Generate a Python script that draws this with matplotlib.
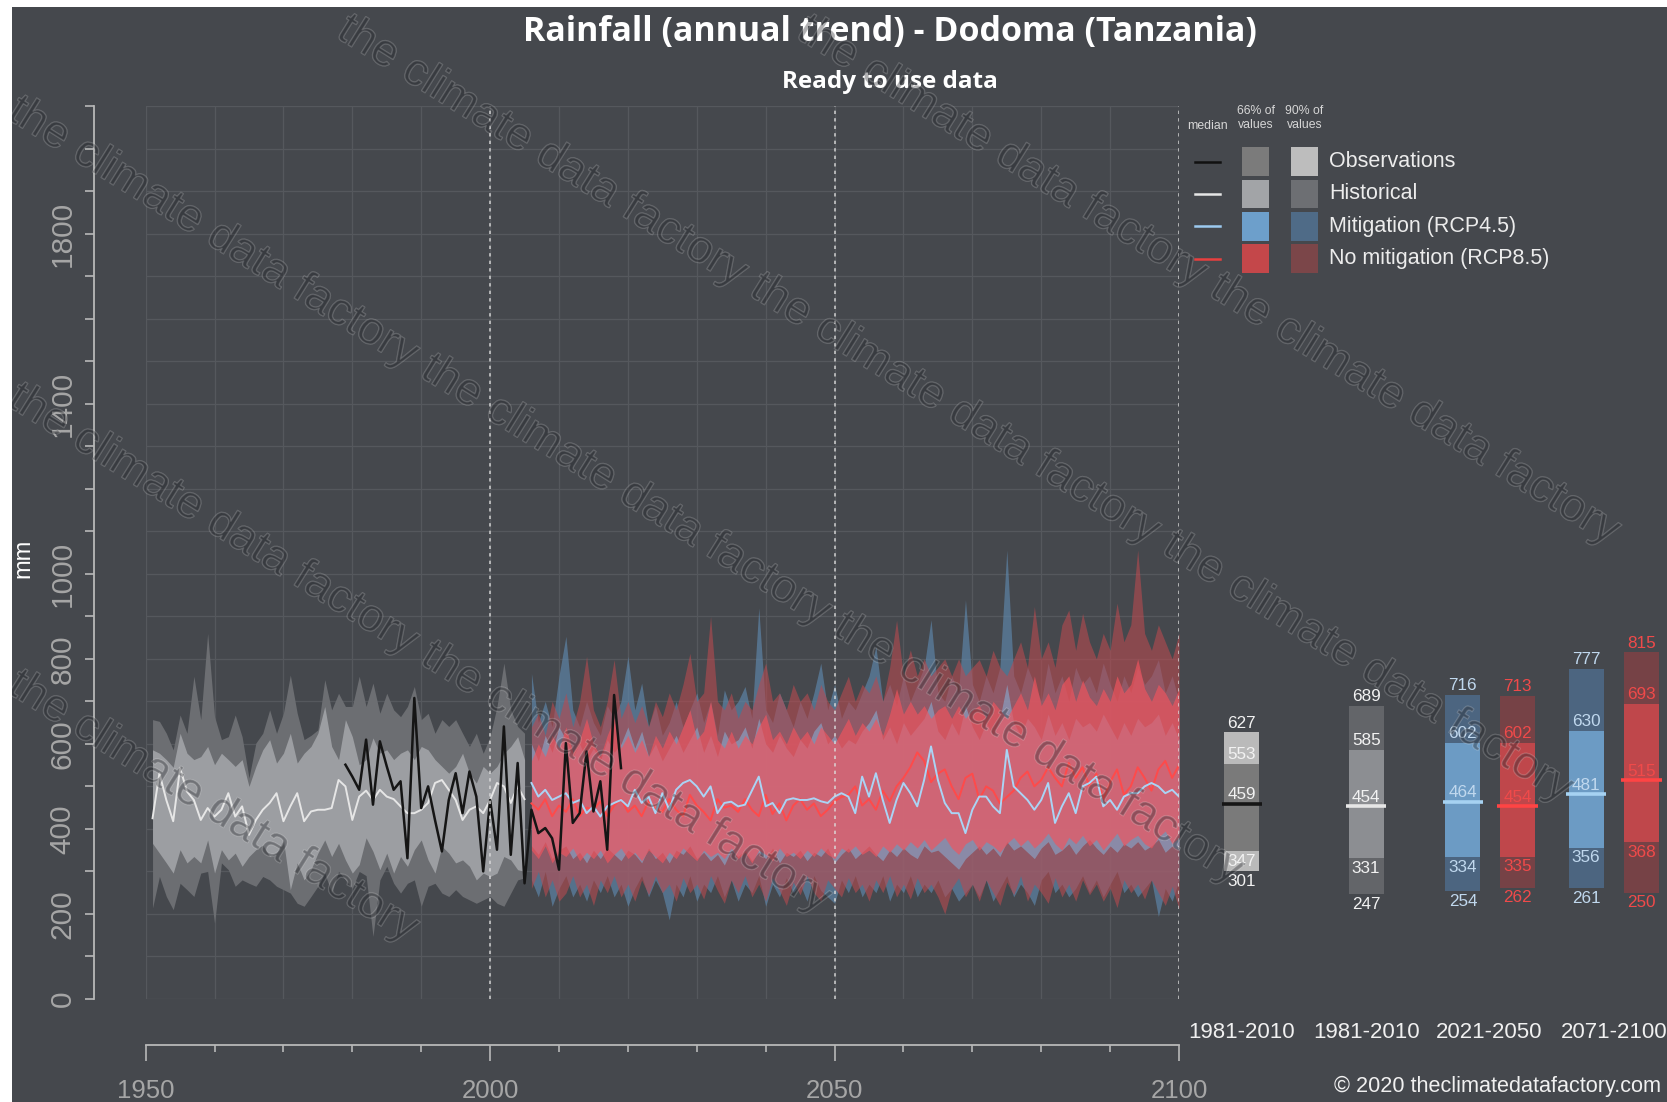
import math
import matplotlib
matplotlib.use("Agg")
import matplotlib.pyplot as plt
import matplotlib.patheffects as pe
from matplotlib import font_manager
from matplotlib.patches import Rectangle

# ------------------------------------------------------------------ data
hist_years = list(range(1951, 2006))
hist_p05 = [214, 288, 241, 210, 272, 257, 241, 296, 300, 178,
            320, 304, 265, 280, 272, 265, 288, 280, 265, 257,
            249, 225, 218, 241, 265, 296, 249, 300, 280, 260,
            300, 290, 147, 280, 312, 272, 249, 272, 280, 218,
            265, 272, 249, 241, 257, 241, 233, 225, 233, 241,
            225, 218, 249, 280, 285]
hist_p17 = [366, 343, 320, 296, 351, 320, 335, 320, 374, 296,
            351, 327, 343, 312, 335, 351, 362, 335, 343, 374,
            257, 320, 280, 304, 343, 374, 335, 366, 327, 296,
            316, 379, 347, 304, 343, 296, 335, 312, 351, 374,
            327, 296, 359, 343, 320, 327, 312, 280, 296, 288,
            296, 335, 327, 304, 300]
hist_med = [425, 531, 468, 418, 543, 488, 468, 421, 449, 429,
            445, 484, 429, 453, 386, 421, 445, 461, 484, 418,
            453, 484, 418, 441, 445, 445, 449, 515, 500, 421,
            476, 490, 468, 492, 476, 470, 453, 437, 437, 445,
            461, 508, 515, 492, 468, 421, 445, 453, 437, 468,
            508, 500, 461, 500, 470]
hist_p83 = [586, 578, 563, 545, 625, 578, 563, 570, 594, 551,
            578, 563, 547, 563, 500, 547, 586, 610, 555, 578,
            625, 555, 578, 594, 625, 688, 594, 563, 657, 617,
            551, 563, 614, 578, 586, 563, 578, 586, 563, 594,
            586, 563, 547, 531, 547, 578, 531, 508, 547, 531,
            547, 578, 594, 617, 563]
hist_p95 = [657, 653, 625, 586, 668, 625, 759, 657, 860, 664,
            610, 617, 668, 617, 520, 602, 625, 680, 625, 672,
            762, 672, 610, 620, 633, 751, 680, 719, 688, 688,
            759, 688, 743, 672, 719, 680, 664, 688, 735, 657,
            672, 625, 657, 641, 657, 625, 594, 625, 578, 617,
            688, 790, 680, 641, 625]

obs_years = list(range(1979, 2020))
obs_values = [551, 523, 492, 610, 457, 606, 547, 492, 512, 331,
              708, 449, 500, 421, 347, 468, 531, 437, 535, 476,
              300, 468, 351, 641, 339, 555, 272, 445, 390, 402,
              378, 304, 602, 414, 437, 582, 441, 512, 351, 715,
              543]

rcp_years = list(range(2006, 2101))
rcp45_p05 = [280, 240, 300, 218, 260, 290, 240, 270, 230, 280,
             250, 290, 240, 270, 218, 260, 290, 240, 280, 250,
             186, 270, 240, 290, 230, 270, 250, 290, 240, 280,
             230, 270, 250, 290, 218, 270, 240, 285, 250, 270,
             230, 290, 255, 240, 225, 280, 250, 290, 240, 270,
             250, 290, 230, 270, 250, 290, 240, 270, 250, 280,
             240, 260, 230, 250, 270, 240, 280, 230, 260, 290,
             240, 270, 250, 220, 280, 300, 250, 270, 240, 260,
             290, 250, 280, 240, 270, 300, 250, 270, 240, 260,
             280, 194, 260, 230, 280]
rcp45_p17 = [360, 340, 370, 330, 350, 360, 330, 345, 320, 350,
             330, 355, 340, 325, 350, 340, 320, 355, 330, 345,
             320, 350, 340, 360, 330, 345, 325, 340, 315, 350,
             335, 350, 325, 345, 330, 355, 320, 345, 335, 350,
             325, 345, 335, 355, 320, 340, 355, 330, 345, 360,
             340, 325, 350, 335, 355, 340, 330, 360, 345, 350,
             335, 320, 305, 330, 345, 360, 340, 355, 335, 370,
             350, 360, 345, 330, 355, 370, 340, 350, 365, 340,
             360, 375, 355, 340, 360, 345, 365, 355, 370, 350,
             360, 375, 345, 360, 350]
rcp45_med = [508, 476, 492, 468, 476, 484, 461, 468, 437, 453,
             429, 453, 461, 468, 453, 492, 461, 476, 437, 484,
             445, 492, 508, 515, 500, 476, 500, 437, 461, 464,
             453, 457, 490, 523, 453, 461, 437, 468, 472, 468,
             468, 472, 465, 461, 476, 484, 476, 437, 523, 476,
             531, 468, 414, 468, 508, 484, 453, 515, 594, 515,
             461, 437, 437, 390, 445, 476, 476, 453, 437, 586,
             500, 484, 468, 445, 468, 508, 414, 453, 484, 437,
             500, 508, 523, 453, 468, 445, 476, 484, 484, 500,
             508, 500, 484, 492, 476]
rcp45_p83 = [600, 560, 620, 580, 640, 610, 570, 600, 560, 590,
             560, 610, 580, 600, 640, 590, 630, 570, 600, 560,
             590, 620, 580, 610, 640, 580, 620, 570, 630, 600,
             610, 640, 590, 660, 600, 580, 620, 590, 570, 610,
             590, 630, 650, 600, 620, 590, 610, 600, 630, 650,
             680, 610, 640, 600, 650, 620, 640, 660, 700, 630,
             610, 650, 620, 690, 640, 610, 650, 620, 660, 740,
             650, 620, 660, 640, 610, 670, 620, 650, 610, 660,
             640, 650, 630, 670, 640, 610, 650, 620, 660, 640,
             650, 670, 620, 650, 610]
rcp45_p95 = [766, 650, 700, 640, 760, 853, 680, 640, 700, 650,
             620, 690, 660, 700, 806, 680, 743, 640, 690, 620,
             650, 700, 640, 680, 720, 650, 700, 620, 727, 680,
             700, 735, 660, 920, 680, 650, 720, 680, 640, 700,
             660, 720, 790, 680, 740, 660, 700, 680, 720, 760,
             829, 700, 740, 690, 760, 700, 740, 780, 892, 720,
             700, 760, 720, 939, 740, 700, 760, 720, 780, 1056,
             760, 720, 780, 740, 700, 790, 720, 760, 700, 780,
             740, 760, 720, 790, 740, 700, 760, 720, 780, 740,
             760, 798, 720, 760, 700]

rcp85_p05 = [260, 300, 240, 280, 230, 249, 290, 240, 270, 220,
             280, 250, 290, 240, 270, 230, 280, 245, 290, 250,
             270, 230, 285, 250, 270, 235, 290, 255, 225, 280,
             250, 290, 240, 270, 230, 285, 255, 220, 275, 245,
             290, 250, 230, 280, 260, 240, 285, 250, 270, 230,
             280, 250, 290, 240, 270, 235, 285, 250, 270, 240,
             200, 260, 285, 240, 270, 230, 280, 250, 220, 275,
             245, 290, 230, 270, 250, 225, 285, 240, 270, 230,
             280, 245, 270, 230, 260, 215, 280, 250, 270, 235,
             280, 250, 220, 265, 212]
rcp85_p17 = [350, 330, 360, 320, 345, 335, 355, 325, 345, 330,
             350, 320, 340, 355, 330, 345, 325, 350, 335, 320,
             345, 330, 355, 340, 325, 350, 335, 345, 330, 355,
             330, 345, 320, 350, 340, 325, 355, 335, 345, 330,
             350, 335, 355, 340, 330, 355, 345, 360, 340, 350,
             335, 360, 345, 365, 350, 370, 355, 375, 350, 365,
             380, 355, 340, 365, 375, 350, 370, 360, 345, 365,
             380, 360, 375, 355, 370, 390, 365, 350, 380, 365,
             385, 360, 375, 350, 370, 390, 360, 375, 385, 365,
             355, 380, 395, 365, 380]
rcp85_med = [460, 445, 470, 430, 455, 440, 470, 430, 450, 445,
             465, 430, 455, 470, 440, 455, 430, 465, 450, 440,
             470, 445, 430, 480, 455, 440, 420, 470, 450, 455,
             440, 470, 445, 430, 480, 435, 460, 420, 455, 470,
             445, 460, 430, 445, 465, 475, 480, 500, 455, 470,
             445, 490, 465, 500, 520, 545, 580, 560, 510, 530,
             540, 500, 470, 520, 530, 470, 500, 490, 460, 475,
             490, 520, 535, 500, 515, 545, 520, 500, 555, 520,
             545, 500, 530, 470, 510, 540, 480, 500, 545, 520,
             490, 540, 560, 520, 550]
rcp85_p83 = [560, 600, 570, 620, 590, 640, 580, 610, 660, 600,
             570, 620, 660, 590, 620, 580, 610, 570, 620, 590,
             630, 600, 640, 680, 610, 630, 700, 610, 590, 630,
             590, 620, 600, 640, 670, 610, 630, 600, 640, 610,
             630, 600, 640, 620, 600, 630, 660, 620, 650, 630,
             660, 620, 670, 730, 670, 700, 670, 690, 660, 680,
             690, 660, 690, 660, 680, 690, 660, 700, 680, 660,
             690, 720, 680, 760, 690, 720, 680, 740, 760, 700,
             750, 710, 690, 730, 700, 760, 720, 740, 800, 730,
             700, 740, 720, 690, 730]
rcp85_p95 = [640, 672, 620, 700, 660, 720, 640, 700, 806, 680,
             640, 700, 798, 660, 700, 650, 690, 640, 700, 664,
             720, 680, 740, 813, 700, 720, 900, 700, 680, 720,
             660, 700, 680, 740, 790, 700, 720, 680, 740, 700,
             720, 680, 740, 700, 680, 720, 759, 700, 740, 720,
             760, 700, 780, 891, 760, 821, 760, 800, 760, 780,
             800, 760, 800, 760, 780, 798, 760, 820, 780, 760,
             800, 840, 780, 923, 800, 840, 780, 880, 915, 820,
             907, 840, 800, 860, 820, 931, 840, 880, 1056, 860,
             820, 880, 840, 800, 860]

# 30-year summaries shown as bars at the right
bar_p05 = [301, 247, 254, 262, 261, 250]
bar_p17 = [347, 331, 334, 335, 356, 368]
bar_med = [459, 454, 464, 454, 481, 515]
bar_p83 = [553, 585, 602, 602, 630, 693]
bar_p95 = [627, 689, 716, 713, 777, 815]
period_labels = ["1981-2010", "1981-2010", "2021-2050", "2071-2100"]
series_labels = ["Observations", "Historical", "Mitigation (RCP4.5)",
                 "No mitigation (RCP8.5)"]
ytick_labels = [0, 200, 400, 600, 800, 1000, 1400, 1800]
xtick_labels = [1950, 2000, 2050, 2100]

# ------------------------------------------------------------------ fonts
installed = {f.name for f in font_manager.fontManager.ttflist}


def fam(*names):
    return [n for n in names if n in installed] + ["DejaVu Sans"]


SANS = fam("Liberation Sans", "Arial")
HAS_NARROW = "Liberation Sans Narrow" in installed
NARROW = fam("Liberation Sans Narrow", "Liberation Sans")
NSC = 1.0 if HAS_NARROW else 0.82
TITLE = fam("Open Sans", "Lato")
plt.rcParams["font.family"] = SANS

# ------------------------------------------------------------------ style
BG = "#45484d"
GRID = "#55585d"
AXIS = "#b8b8b8"
TICKLBL = "#a6a6a6"

GW, GH = 1568.0, 1037.0          # layout grid
PT = 1667.0 / GW * 0.72          # points per grid unit


def fx(x):
    return x / GW


def fy(y):
    return 1 - y / GH


fig = plt.figure(figsize=(16.67, 11.02), dpi=100, facecolor=BG)

# ------------------------------------------------------------------ main panel
ax = fig.add_axes([fx(137), fy(940), fx(1109) - fx(137), fy(100) - fy(940)])
ax.set_facecolor(BG)
ax.set_xlim(1950, 2100)
ax.set_ylim(0, 2100)
for s in ("top", "right"):
    ax.spines[s].set_visible(False)
ax.spines["left"].set_position(("outward", 49 * PT))
ax.spines["bottom"].set_position(("outward", 43 * PT))
for s in ("left", "bottom"):
    ax.spines[s].set_color(AXIS)
    ax.spines[s].set_linewidth(1.3)

yt = list(range(0, 2101, 100))
ax.set_yticks(yt)
ax.set_yticklabels([str(v) if v in ytick_labels else "" for v in yt])
ax.set_xticks(xtick_labels)
ax.set_xticklabels([str(v) for v in xtick_labels])
ax.set_xticks(list(range(1950, 2101, 10)), minor=True)
ax.tick_params(axis="y", length=8 * PT, width=1.2, color=AXIS,
               labelcolor=TICKLBL, pad=6, labelrotation=90)
ax.tick_params(axis="x", which="major", length=15 * PT, width=1.2, color=AXIS,
               labelcolor=TICKLBL, pad=13)
ax.tick_params(axis="x", which="minor", length=7 * PT, width=1.2, color=AXIS)
for lbl in ax.get_yticklabels():
    lbl.set_fontsize(21.5)
    lbl.set_va("center")
for lbl in ax.get_xticklabels():
    lbl.set_fontsize(18.5)

ax.set_axisbelow(True)
ax.grid(True, which="both", axis="x", color=GRID, lw=0.9)
ax.grid(True, which="major", axis="y", color=GRID, lw=0.9)

ax.set_ylabel("mm", color="white", fontsize=17, va="center")
ax.yaxis.set_label_coords((22 - 137) / (1109 - 137), (940 - 525) / 840)

# historical ensemble
ax.fill_between(hist_years, hist_p05, hist_p95, color="#6c6e72", lw=0, zorder=2)
ax.fill_between(hist_years, hist_p17, hist_p83, color="#9c9ea2", lw=0, zorder=3)
ax.plot(hist_years, hist_med, color="#e6e6e6", lw=1.4, zorder=4)

# scenario ensembles
ax.fill_between(rcp_years, rcp45_p05, rcp45_p95, color="#5f88ad", alpha=0.65,
                lw=0, zorder=5)
ax.fill_between(rcp_years, rcp85_p05, rcp85_p95, color="#b84a50", alpha=0.6,
                lw=0, zorder=6)
ax.fill_between(rcp_years, rcp45_p17, rcp45_p83, color="#86b4dc", alpha=0.55,
                lw=0, zorder=7)
ax.fill_between(rcp_years, rcp85_p17, rcp85_p83, color="#f0545e", alpha=0.68,
                lw=0, zorder=8)
ax.plot(rcp_years, rcp85_med, color="#ff4a4a", lw=1.4, zorder=9)
ax.plot(rcp_years, rcp45_med, color="#aad4f5", lw=1.4, zorder=10)

# observations
ax.plot(obs_years, obs_values, color="#151515", lw=1.8, zorder=11)

for yr in (2000, 2050, 2100):
    ax.axvline(yr, color="#dcdcdc", lw=1.2, ls=(0, (2, 2.5)), alpha=0.85,
               zorder=12)

# ------------------------------------------------------------------ bars
axr = fig.add_axes([fx(1110), fy(940), 1 - fx(1110), fy(100) - fy(940)])
axr.set_xlim(1110, GW)
axr.set_ylim(0, 2100)
axr.axis("off")

bar_x = [1168, 1285, 1376, 1427.5, 1492, 1544]
bar_w = 33
c90 = ["#bababa", "#636569", "#4c6580", "#764246", "#4c6580", "#764246"]
c66 = ["#7a7a7a", "#8c8e92", "#6c9bc4", "#bf474b", "#6c9bc4", "#bf474b"]
cmed = ["#151515", "#e6e6e6", "#a6d2f2", "#ff4444", "#a6d2f2", "#ff4444"]
ctxt = ["#f2f2f2", "#f2f2f2", "#c0d8ee", "#f04a4a", "#c0d8ee", "#f04a4a"]

for i, cx in enumerate(bar_x):
    axr.bar(cx, bar_p95[i] - bar_p05[i], bottom=bar_p05[i], width=bar_w,
            color=c90[i], lw=0)
    axr.bar(cx, bar_p83[i] - bar_p17[i], bottom=bar_p17[i], width=bar_w,
            color=c66[i], lw=0)
    axr.plot([cx - 19, cx + 19], [bar_med[i], bar_med[i]], color=cmed[i],
             lw=2.6, solid_capstyle="butt")
    kw = dict(ha="center", va="center", color=ctxt[i], family=NARROW,
              fontsize=15 * NSC)
    axr.text(cx, bar_p95[i] + 22, str(bar_p95[i]), **kw)
    axr.text(cx, bar_p83[i] + 22, str(bar_p83[i]), **kw)
    axr.text(cx, bar_med[i] + 21, str(bar_med[i]), **kw)
    axr.text(cx, bar_p17[i] - 24, str(bar_p17[i]), **kw)
    axr.text(cx, bar_p05[i] - 24, str(bar_p05[i]), **kw)

# ------------------------------------------------------------------ overlay
ovl = fig.add_axes([0, 0, 1, 1], zorder=20)
ovl.set_xlim(0, GW)
ovl.set_ylim(GH, 0)
ovl.axis("off")

for x, lab in zip([1168, 1285, 1401, 1518], period_labels):
    ovl.text(x, 972, lab, ha="center", va="center", color="#f0f0f0",
             fontsize=16)
ovl.text(1562, 1022, "\u00a9 2020 theclimatedatafactory.com", ha="right",
         va="center", color="#f0f0f0", family=NARROW, fontsize=19 * NSC)

fig.text(fx(837), fy(30), "Rainfall (annual trend) - Dodoma (Tanzania)",
         ha="center", va="center", color="white", fontsize=24.5,
         fontweight="bold", family=TITLE)
fig.text(fx(837), fy(77), "Ready to use data", ha="center", va="center",
         color="white", fontsize=17.5, fontweight="bold", family=TITLE)

# legend
hdr = dict(ha="center", va="center", color="#d6d6d6", fontsize=8.8,
           linespacing=1.25)
ovl.text(1136, 119, "median", **hdr)
ovl.text(1181, 111, "66% of\nvalues", **hdr)
ovl.text(1227, 111, "90% of\nvalues", **hdr)
leg66 = ["#7b7b7b", "#a2a4a7", "#6d9fcb", "#c4474a"]
leg90 = ["#bdbdbd", "#6d6f73", "#4f6b87", "#7b4649"]
legmed = ["#111111", "#e6e6e6", "#9ccaf0", "#e8403f"]
for k, lab in enumerate(series_labels):
    yc = 152 + 30.5 * k
    ovl.plot([1124, 1148], [yc, yc], color=legmed[k], lw=1.8)
    ovl.add_patch(Rectangle((1168, yc - 13.5), 26, 27, color=leg66[k], lw=0))
    ovl.add_patch(Rectangle((1214, yc - 13.5), 26, 27, color=leg90[k], lw=0))
    ovl.text(1250, yc, lab, ha="left", va="center", color="#ececec",
             fontsize=15.5)

# watermark: whole phrases along parallel diagonals, kept inside the frame
WM = "the climate data factory"
WM_SIZE = 33
ang = math.radians(32)
em = WM_SIZE / PT
plen = 10.34 * em
step = 10.62 * em
ux, uy = math.cos(ang), math.sin(ang)
vx, vy = math.sin(ang), -math.cos(ang)
hgt = 0.8 * em


def fits(x0, y0):
    pts = [(x0, y0), (x0 + plen * ux, y0 + plen * uy),
           (x0 + hgt * vx, y0 + hgt * vy),
           (x0 + plen * ux + hgt * vx, y0 + plen * uy + hgt * vy)]
    return all(4 < px < GW - 4 and 4 < py < GH - 4 for px, py in pts)


for c in (-1160, -890, -620, -350, -80, 190, 460, 730):
    t = 0.0
    while t < 3000:
        x0, y0 = -300 + t * ux, c + t * uy
        if fits(x0, y0):
            ovl.text(x0, y0, WM, rotation=-32, rotation_mode="anchor",
                     ha="left", va="baseline", fontsize=WM_SIZE,
                     color=(0.14, 0.15, 0.17), alpha=0.2,
                     path_effects=[pe.withStroke(
                         linewidth=1.0, foreground=(1, 1, 1, 0.08))],
                     zorder=30)
            t += step
        else:
            t += 5

# frame edge
ovl.add_patch(Rectangle((0, 0), 11.5, GH, color="white", lw=0, zorder=40))
ovl.add_patch(Rectangle((0, 0), GW, 7, color="white", lw=0, zorder=40))

fig.savefig("out.png", dpi=100, facecolor=BG)
